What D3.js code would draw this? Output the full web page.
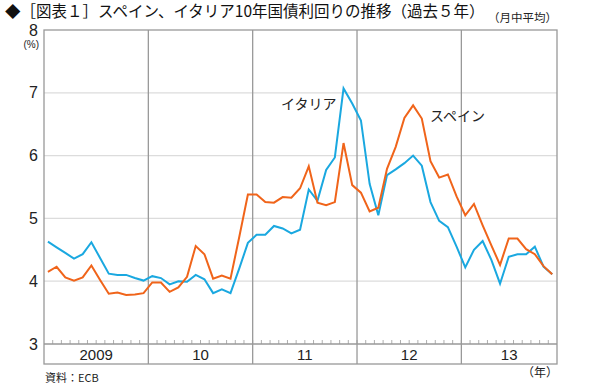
<!DOCTYPE html>
<html><head><meta charset="utf-8">
<script src="https://cdn.jsdelivr.net/npm/d3@7"></script>
<style>body{margin:0;background:#fff}svg{display:block}text{font-family:"Noto Sans CJK JP","Noto Sans",sans-serif}.num{font-family:"Liberation Sans",Arial,sans-serif}</style>
</head><body><svg id="c" width="600" height="390"></svg>
<script>
const years = ["2009","10","11","12","13"];
const monthsPerYear = [12,12,12,12,11];
const yTicks = [3,4,5,6,7,8];
const italy = [4.63,4.54,4.45,4.36,4.43,4.62,4.37,4.12,4.10,4.10,4.05,4.01,
  4.08,4.05,3.95,4.00,3.99,4.10,4.03,3.81,3.87,3.81,4.20,4.61,
  4.74,4.74,4.88,4.84,4.76,4.82,5.46,5.28,5.77,5.97,7.07,6.83,
  6.56,5.55,5.05,5.69,5.78,5.88,6.00,5.84,5.26,4.96,4.86,4.55,
  4.22,4.50,4.64,4.34,3.96,4.39,4.43,4.43,4.55,4.23,4.11];
const spain = [4.15,4.23,4.06,4.01,4.06,4.25,4.02,3.80,3.82,3.78,3.79,3.81,
  3.98,3.98,3.83,3.90,4.07,4.56,4.43,4.04,4.09,4.04,4.70,5.38,
  5.38,5.26,5.25,5.34,5.33,5.48,5.83,5.25,5.21,5.26,6.20,5.53,
  5.41,5.11,5.17,5.79,6.14,6.60,6.80,6.59,5.91,5.65,5.70,5.35,
  5.05,5.23,4.89,4.57,4.26,4.68,4.68,4.51,4.43,4.24,4.11];

const svg = d3.select("#c");
const L = 44, R = 557, T = 30, B = 344, labH = 20;
const nMonths = d3.sum(monthsPerYear);
const x = d3.scaleLinear().domain([0, nMonths]).range([L, R]);
const y = d3.scaleLinear().domain([3, 8]).range([B, T]);

// grid
svg.append("g").selectAll("line").data(yTicks.filter(d => d > 3 && d < 8)).join("line")
  .attr("x1", L).attr("x2", R).attr("y1", d => y(d)).attr("y2", d => y(d))
  .attr("stroke", "#dcdcdc").attr("stroke-width", 1.2);

// year boundaries
const starts = [0]; monthsPerYear.forEach((m, i) => starts.push(starts[i] + m));
svg.append("g").selectAll("line").data(starts.slice(1, -1)).join("line")
  .attr("x1", d => x(d)).attr("x2", d => x(d)).attr("y1", T).attr("y2", B + labH)
  .attr("stroke", "#999").attr("stroke-width", 1.3);

// month ticks
svg.append("g").selectAll("line").data(d3.range(1, nMonths)).join("line")
  .attr("x1", d => x(d)).attr("x2", d => x(d)).attr("y1", B).attr("y2", B - 4)
  .attr("stroke", "#999").attr("stroke-width", 0.8);

// frame
svg.append("rect").attr("x", L).attr("y", T).attr("width", R - L).attr("height", B + labH - T)
  .attr("fill", "none").attr("stroke", "#999").attr("stroke-width", 1.3);
svg.append("line").attr("x1", L).attr("x2", R).attr("y1", B).attr("y2", B)
  .attr("stroke", "#999").attr("stroke-width", 1.3);

// year labels
svg.append("g").selectAll("text").data(years).join("text").attr("class", "num")
  .attr("x", (d, i) => (x(starts[i]) + x(starts[i + 1])) / 2).attr("y", B + 16)
  .attr("text-anchor", "middle").attr("font-size", 15).attr("fill", "#222").text(d => d);

// y labels
svg.append("g").selectAll("text").data(yTicks).join("text").attr("class", "num")
  .attr("x", 38).attr("y", d => y(d) + 5.5).attr("text-anchor", "end")
  .attr("font-size", 16).attr("fill", "#222").text(d => d);
svg.append("text").attr("class", "num").attr("x", 39).attr("y", 48).attr("text-anchor", "end")
  .attr("font-size", 10).attr("fill", "#222").text("(%)");

// lines
const line = d3.line().x((d, i) => x(i + 0.45)).y(d => y(d));
svg.append("path").datum(italy).attr("d", line).attr("fill", "none")
  .attr("stroke", "#1aa8e0").attr("stroke-width", 2);
svg.append("path").datum(spain).attr("d", line).attr("fill", "none")
  .attr("stroke", "#f0641a").attr("stroke-width", 2);

// series labels
svg.append("text").attr("x", 281).attr("y", 109).attr("font-size", 14).attr("fill", "#222").text("イタリア");
svg.append("text").attr("x", 430).attr("y", 121).attr("font-size", 14).attr("fill", "#222").text("スペイン");

// title & notes
svg.append("text").attr("x", 5).attr("y", 17).attr("font-size", 15.5).attr("fill", "#111")
  .text("◆［図表１］スペイン、イタリア10年国債利回りの推移（過去５年）");
svg.append("text").attr("x", 557).attr("y", 22).attr("text-anchor", "end").attr("font-size", 11.5).attr("fill", "#222").text("（月中平均）");
svg.append("text").attr("x", 45).attr("y", 382).attr("font-size", 11).attr("fill", "#222").text("資料：ECB");
svg.append("text").attr("x", 558).attr("y", 377).attr("text-anchor", "end").attr("font-size", 12).attr("fill", "#222").text("（年）");
</script></body></html>
